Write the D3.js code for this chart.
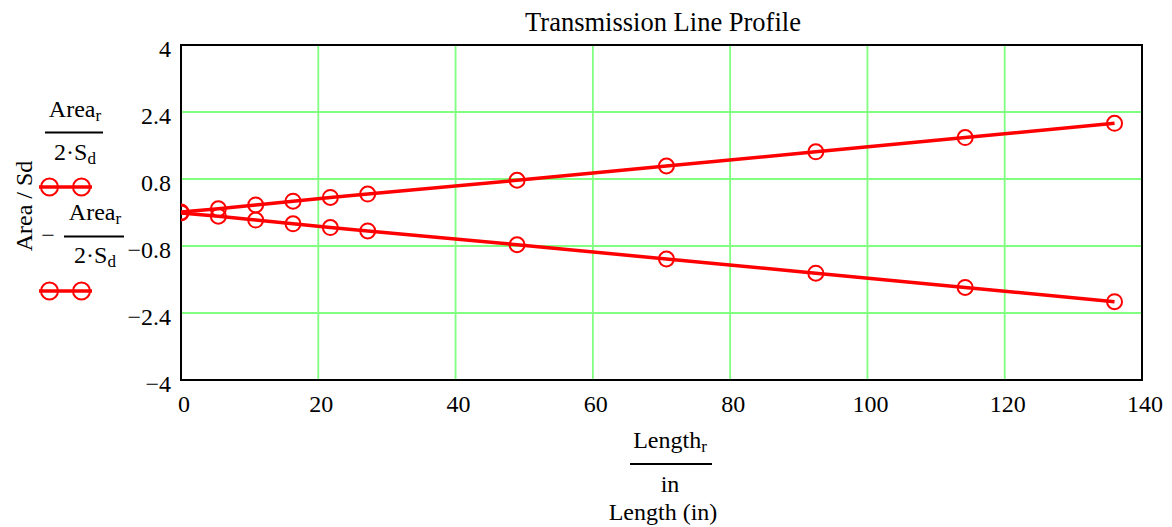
<!DOCTYPE html>
<html><head><meta charset="utf-8">
<script src="https://cdn.jsdelivr.net/npm/d3@7"></script>
<style>body{margin:0;background:#fff}svg{display:block}text{font-family:"Liberation Serif","Times New Roman",serif;fill:#000}</style>
</head><body><svg id="c" width="1172" height="527"></svg>
<script>
const lengths = [0, 5.44, 10.88, 16.32, 21.76, 27.2, 48.96, 70.72, 92.48, 114.24, 136];
const upper = [0.01, 0.09, 0.18, 0.27, 0.36, 0.44, 0.77, 1.11, 1.45, 1.79, 2.13];
const lower = [-0.01, -0.09, -0.18, -0.27, -0.36, -0.44, -0.77, -1.11, -1.45, -1.79, -2.13];
const xTicks = [0, 20, 40, 60, 80, 100, 120, 140];
const yTicks = [4, 2.4, 0.8, -0.8, -2.4, -4];
const title = "Transmission Line Profile";

const svg = d3.select("#c");
const L = 181, R = 1142, T = 45, B = 380;
const x = d3.scaleLinear().domain([0, 140]).range([L, R]);
const y = d3.scaleLinear().domain([-4, 4]).range([B, T]);
const red = "#ff0000", green = "#80ff80";
const fs = 24;

// grid
svg.append("g").selectAll("line").data(xTicks.filter(d => d > 0)).join("line")
  .attr("x1", d => x(d)).attr("x2", d => x(d)).attr("y1", T).attr("y2", B)
  .attr("stroke", green).attr("stroke-width", 1.8);
svg.append("g").selectAll("line").data(yTicks.filter(d => Math.abs(d) < 4)).join("line")
  .attr("x1", L).attr("x2", R).attr("y1", d => y(d)).attr("y2", d => y(d))
  .attr("stroke", green).attr("stroke-width", 1.8);

// frame
svg.append("rect").attr("x", L).attr("y", T).attr("width", R - L).attr("height", B - T)
  .attr("fill", "none").attr("stroke", "#000").attr("stroke-width", 2);

// tick labels
const fmt = d => (d < 0 ? "\u2212" : "") + Math.abs(d);
svg.append("g").selectAll("text").data(xTicks).join("text")
  .attr("x", d => x(d) + 3).attr("y", 412).attr("text-anchor", "middle")
  .attr("font-size", fs).text(d => d);
svg.append("g").selectAll("text").data(yTicks).join("text")
  .attr("x", 171).attr("y", d => y(d) + 12).attr("text-anchor", "end")
  .attr("font-size", fs).text(fmt);

// series
const clipId = "clip";
svg.append("clipPath").attr("id", clipId).append("rect").attr("x", L).attr("y", T).attr("width", R - L).attr("height", B - T);
const line = d3.line().x(d => x(d[0])).y(d => y(d[1]));
[upper, lower].forEach(s => {
  const pts = lengths.map((l, i) => [l, s[i]]);
  const g = svg.append("g").attr("clip-path", `url(#${clipId})`);
  g.append("path").datum(pts).attr("d", line).attr("fill", "none")
    .attr("stroke", red).attr("stroke-width", 3.5);
  g.selectAll("circle").data(pts).join("circle")
    .attr("cx", d => x(d[0])).attr("cy", d => y(d[1])).attr("r", 7.5)
    .attr("fill", "none").attr("stroke", red).attr("stroke-width", 2);
});

// title
svg.append("text").attr("x", 663).attr("y", 31).attr("text-anchor", "middle")
  .attr("font-size", 26.5).text(title);

// y axis label
svg.append("text").attr("transform", "translate(32,206) rotate(-90)")
  .attr("text-anchor", "middle").attr("font-size", fs).text("Area / Sd");

// fraction helper
function frac(cx, numY, barY, denY, barX1, barX2, numParts, denParts) {
  const t1 = svg.append("text").attr("x", cx).attr("y", numY).attr("text-anchor", "middle").attr("font-size", fs);
  numParts.forEach(p => t1.append("tspan").attr("font-size", p.sub ? 17 : fs).attr("dy", p.sub ? 4 : 0).text(p.t));
  svg.append("line").attr("x1", barX1).attr("x2", barX2).attr("y1", barY).attr("y2", barY)
    .attr("stroke", "#000").attr("stroke-width", 2);
  const t2 = svg.append("text").attr("x", cx).attr("y", denY).attr("text-anchor", "middle").attr("font-size", fs);
  denParts.forEach(p => t2.append("tspan").attr("font-size", p.sub ? 17 : fs).attr("dy", p.sub ? 4 : 0).text(p.t));
}
frac(75, 117, 132.5, 160, 45, 103, [{t: "Area"}, {t: "r", sub: true}], [{t: "2\u00B7S"}, {t: "d", sub: true}]);
svg.append("text").attr("x", 48).attr("y", 243).attr("text-anchor", "middle").attr("font-size", fs).text("\u2212");
frac(95, 220, 236.5, 263, 64, 124, [{t: "Area"}, {t: "r", sub: true}], [{t: "2\u00B7S"}, {t: "d", sub: true}]);
frac(670, 448, 464, 492, 630, 712, [{t: "Length"}, {t: "r", sub: true}], [{t: "in"}]);
svg.append("text").attr("x", 663).attr("y", 520).attr("text-anchor", "middle").attr("font-size", fs).text("Length (in)");

// legend symbols
[187, 291].forEach(ly => {
  const g = svg.append("g");
  g.append("line").attr("x1", 39).attr("x2", 92).attr("y1", ly).attr("y2", ly)
    .attr("stroke", red).attr("stroke-width", 3.5);
  g.selectAll("circle").data([49.5, 81.5]).join("circle")
    .attr("cx", d => d).attr("cy", ly).attr("r", 8.5)
    .attr("fill", "none").attr("stroke", red).attr("stroke-width", 2);
});
</script></body></html>
